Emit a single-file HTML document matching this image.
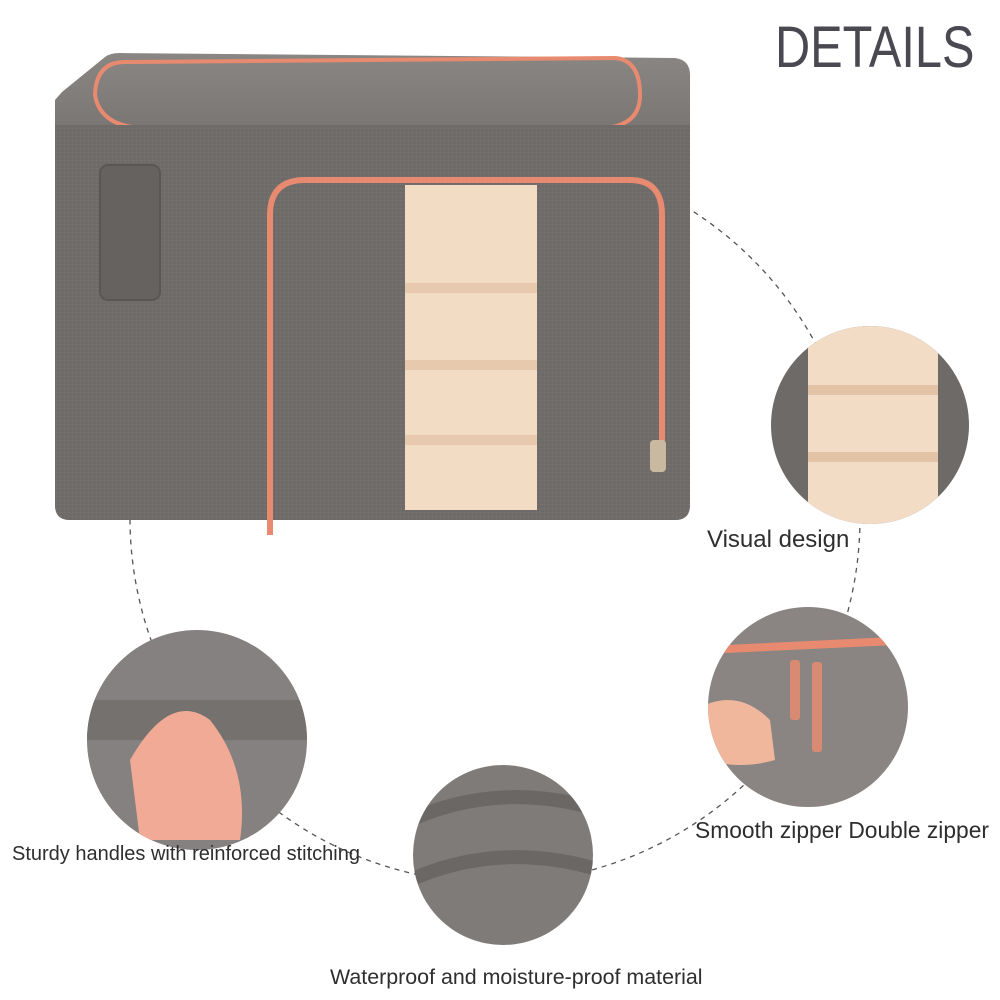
<!DOCTYPE html>
<html><head><meta charset="utf-8"><style>
html,body{margin:0;padding:0;background:#fff;}
body{width:1000px;height:1000px;position:relative;overflow:hidden;font-family:"Liberation Sans","DejaVu Sans",sans-serif;}
.t{position:absolute;color:#2e2e2e;white-space:nowrap;}
</style></head><body>
<svg width="1000" height="1000" style="position:absolute;left:0;top:0">
<defs>
<pattern id="lin" width="4" height="4" patternUnits="userSpaceOnUse">
<rect width="4" height="4" fill="#6e6a68"/><rect width="2" height="1" fill="#7d7976"/><rect x="2" y="2" width="1" height="2" fill="#62605e"/>
</pattern>
<linearGradient id="top" x1="0" y1="0" x2="0" y2="1"><stop offset="0" stop-color="#8a8684"/><stop offset="1" stop-color="#7a7674"/></linearGradient>
</defs>
<circle cx="495" cy="518" r="365" fill="none" stroke="#555" stroke-width="1.3" stroke-dasharray="5,5"/>
<path d="M62,92 L105,57 Q110,53 120,53 L675,58 Q690,60 690,75 L690,128 L55,128 L55,100 Z" fill="url(#top)"/>
<path d="M95,95 Q96,62 125,62 L615,58 Q640,60 640,95 Q640,125 605,128 L140,128 Q100,125 95,95 Z" fill="none" stroke="#e88a70" stroke-width="4"/>
<path d="M55,125 L690,125 L690,505 Q690,520 675,520 L70,520 Q55,520 55,505 Z" fill="url(#lin)"/>
<path d="M55,125 L690,125 L690,505 Q690,520 675,520 L70,520 Q55,520 55,505 Z" fill="#716d6b" opacity="0.55"/>
<rect x="100" y="165" width="60" height="135" rx="8" fill="#66625f" stroke="#5a5653" stroke-width="2"/>
<path d="M270,535 L270,215 Q270,180 305,180 L630,180 Q662,180 662,215 L662,450" fill="none" stroke="#e88a70" stroke-width="6"/>
<rect x="405" y="185" width="132" height="325" fill="#f3dcc4"/>
<g fill="#e7caae"><rect x="405" y="283" width="132" height="10"/><rect x="405" y="360" width="132" height="10"/><rect x="405" y="435" width="132" height="10"/></g>
<rect x="650" y="440" width="16" height="32" rx="4" fill="#c9b9a0"/>
<clipPath id="c1"><circle cx="870" cy="425" r="99"/></clipPath>
<g clip-path="url(#c1)"><rect x="770" y="325" width="200" height="200" fill="#6e6a68"/><rect x="808" y="325" width="130" height="200" fill="#f2dcc6"/>
<g fill="#e2c3a5"><rect x="808" y="385" width="130" height="10"/><rect x="808" y="452" width="130" height="10"/></g></g>
<clipPath id="c2"><circle cx="808" cy="707" r="100"/></clipPath>
<g clip-path="url(#c2)"><rect x="705" y="605" width="210" height="205" fill="#8a8583"/>
<path d="M705,650 L915,640" stroke="#e88a70" stroke-width="8"/>
<path d="M705,705 Q740,690 770,720 L775,760 Q740,770 705,760 Z" fill="#f0b79d"/>
<rect x="790" y="660" width="10" height="60" rx="3" fill="#d98a72"/><rect x="812" y="662" width="10" height="90" rx="3" fill="#d98a72"/></g>
<clipPath id="c3"><circle cx="197" cy="740" r="110"/></clipPath>
<g clip-path="url(#c3)"><rect x="85" y="630" width="225" height="220" fill="#858180"/>
<rect x="85" y="700" width="225" height="40" fill="#75716f"/>
<path d="M130,760 Q170,690 210,720 Q250,770 240,840 L140,840 Z" fill="#f1aa96"/></g>
<clipPath id="c4"><circle cx="503" cy="855" r="90"/></clipPath>
<g clip-path="url(#c4)"><rect x="410" y="765" width="190" height="180" fill="#7f7b79"/>
<path d="M410,820 Q500,780 600,810 M410,880 Q500,840 600,870" stroke="#5d5a58" stroke-width="14" fill="none" opacity="0.6"/></g>
</svg>
<div class="t" style="left:775px;top:14px;font-size:58px;color:#4a4952;transform:scaleX(0.84);transform-origin:0 0">DETAILS</div>
<div class="t" style="left:707px;top:526px;font-size:24px">Visual design</div>
<div class="t" style="left:695px;top:817px;font-size:22.8px">Smooth zipper Double zipper</div>
<div class="t" style="left:12px;top:843px;font-size:20px">Sturdy handles with reinforced stitching</div>
<div class="t" style="left:330px;top:965px;font-size:21.4px">Waterproof and moisture-proof material</div>
</body></html>
